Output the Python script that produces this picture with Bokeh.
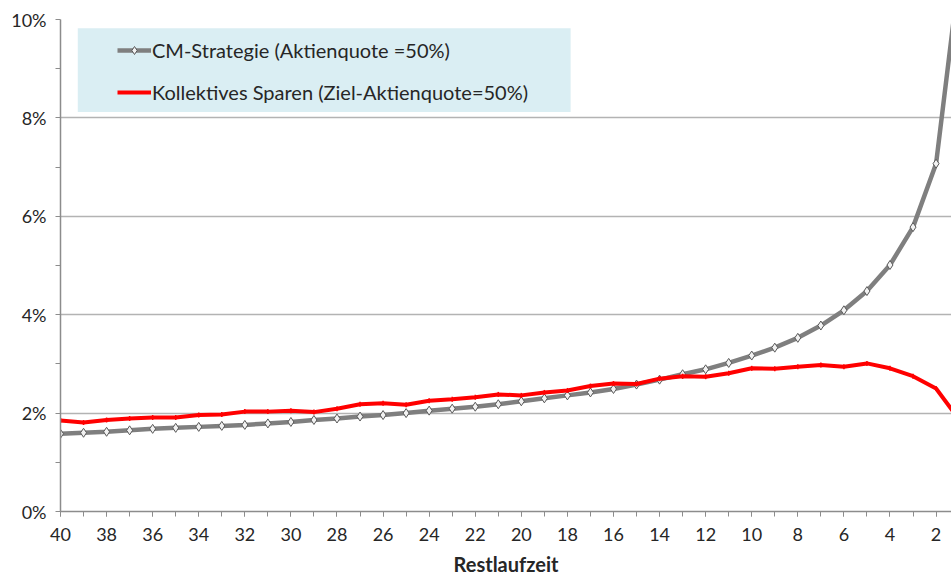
from bokeh.plotting import figure
from bokeh.models import (ColumnDataSource, FixedTicker, NumeralTickFormatter,
                          Range1d, Legend, LegendItem, BoxAnnotation)
from bokeh.embed import file_html
from bokeh.resources import INLINE

# ---- data ----
restlaufzeit = list(range(40, 0, -1))
cm_strategie = [1.58, 1.60, 1.62, 1.65, 1.68, 1.70, 1.72, 1.74, 1.76, 1.79,
                1.82, 1.86, 1.89, 1.93, 1.96, 2.00, 2.05, 2.09, 2.13, 2.18,
                2.24, 2.30, 2.36, 2.42, 2.49, 2.58, 2.68, 2.79, 2.89, 3.02,
                3.17, 3.33, 3.53, 3.78, 4.09, 4.48, 5.01, 5.78, 7.07, 10.9]
kollektiv = [1.85, 1.81, 1.86, 1.89, 1.91, 1.91, 1.96, 1.97, 2.03, 2.03,
             2.05, 2.02, 2.09, 2.18, 2.20, 2.17, 2.25, 2.28, 2.32, 2.38,
             2.36, 2.42, 2.46, 2.55, 2.60, 2.59, 2.70, 2.75, 2.74, 2.81,
             2.91, 2.90, 2.94, 2.98, 2.94, 3.01, 2.91, 2.75, 2.50, 1.87]
y_ticks = [0, 0.02, 0.04, 0.06, 0.08, 0.10]
y_minor = [0.01, 0.03, 0.05, 0.07, 0.09]
x_ticks = list(range(40, 0, -2))
label_cm = "CM-Strategie (Aktienquote =50%)"
label_ks = "Kollektives Sparen (Ziel-Aktienquote=50%)"
x_title = "Restlaufzeit"

src = ColumnDataSource(dict(
    x=restlaufzeit,
    cm=[v / 100 for v in cm_strategie],
    ks=[v / 100 for v in kollektiv],
))

FONT = "Lato"
TXT = "#262626"

p = figure(width=951, height=578, output_backend="svg", toolbar_location=None,
           x_range=Range1d(40, 1.33), y_range=Range1d(0, 0.10),
           min_border_left=60, min_border_right=0, min_border_top=19,
           min_border_bottom=64)
p.outline_line_color = None
p.background_fill_color = "white"

# legend background box
p.add_layout(BoxAnnotation(left=39.25, right=17.86, bottom=0.0812, top=0.0982,
                           fill_color="#DAEEF3", fill_alpha=1.0,
                           line_color=None, level="underlay"))

r_cm_line = p.line("x", "cm", source=src, line_color="#7F7F7F", line_width=4.5)
r_cm_pts = p.scatter("x", "cm", source=src, marker="diamond", size=9,
                     fill_color="#F2F2F2", line_color="#595959", line_width=1)
r_ks_line = p.line("x", "ks", source=src, line_color="#FF0000", line_width=4)
r_ks_pts = p.scatter("x", "ks", source=src, marker="dash", size=5, angle=1.5708,
                     line_color="#FF0000", line_width=1.5)

# axes
p.xaxis.ticker = FixedTicker(ticks=x_ticks, minor_ticks=restlaufzeit)
p.yaxis.ticker = FixedTicker(ticks=y_ticks, minor_ticks=y_minor)
p.yaxis.formatter = NumeralTickFormatter(format="0%")
for ax in (p.xaxis[0], p.yaxis[0]):
    ax.axis_line_color = "#8C8C8C"
    ax.axis_line_width = 1.5
    ax.major_tick_line_color = "#8C8C8C"
    ax.minor_tick_line_color = "#8C8C8C"
    ax.major_tick_in = 0
    ax.minor_tick_in = 0
    ax.major_tick_out = 5
    ax.minor_tick_out = 5
    ax.major_label_text_font = FONT
    ax.major_label_text_font_size = "18px"
    ax.major_label_text_color = TXT
p.xaxis.major_label_standoff = 11
p.yaxis.major_label_standoff = 9
p.xaxis.axis_label = x_title
p.xaxis.axis_label_text_font = FONT
p.xaxis.axis_label_text_font_size = "20px"
p.xaxis.axis_label_text_font_style = "bold"
p.xaxis.axis_label_text_color = TXT
p.xaxis.axis_label_standoff = 8

p.xgrid.grid_line_color = None
p.ygrid.grid_line_color = "#B3B3B3"
p.ygrid.grid_line_width = 1.5

legend = Legend(items=[LegendItem(label=label_cm, renderers=[r_cm_line, r_cm_pts]),
                       LegendItem(label=label_ks, renderers=[r_ks_line, r_ks_pts])],
                location=(57, 407), margin=0, padding=0, spacing=18,
                glyph_width=34, glyph_height=20, label_height=20,
                label_standoff=1,
                background_fill_alpha=0, border_line_color=None,
                label_text_font=FONT, label_text_font_size="20px",
                label_text_color=TXT)
p.add_layout(legend)

open("out.html", "w").write(file_html(p, INLINE))
